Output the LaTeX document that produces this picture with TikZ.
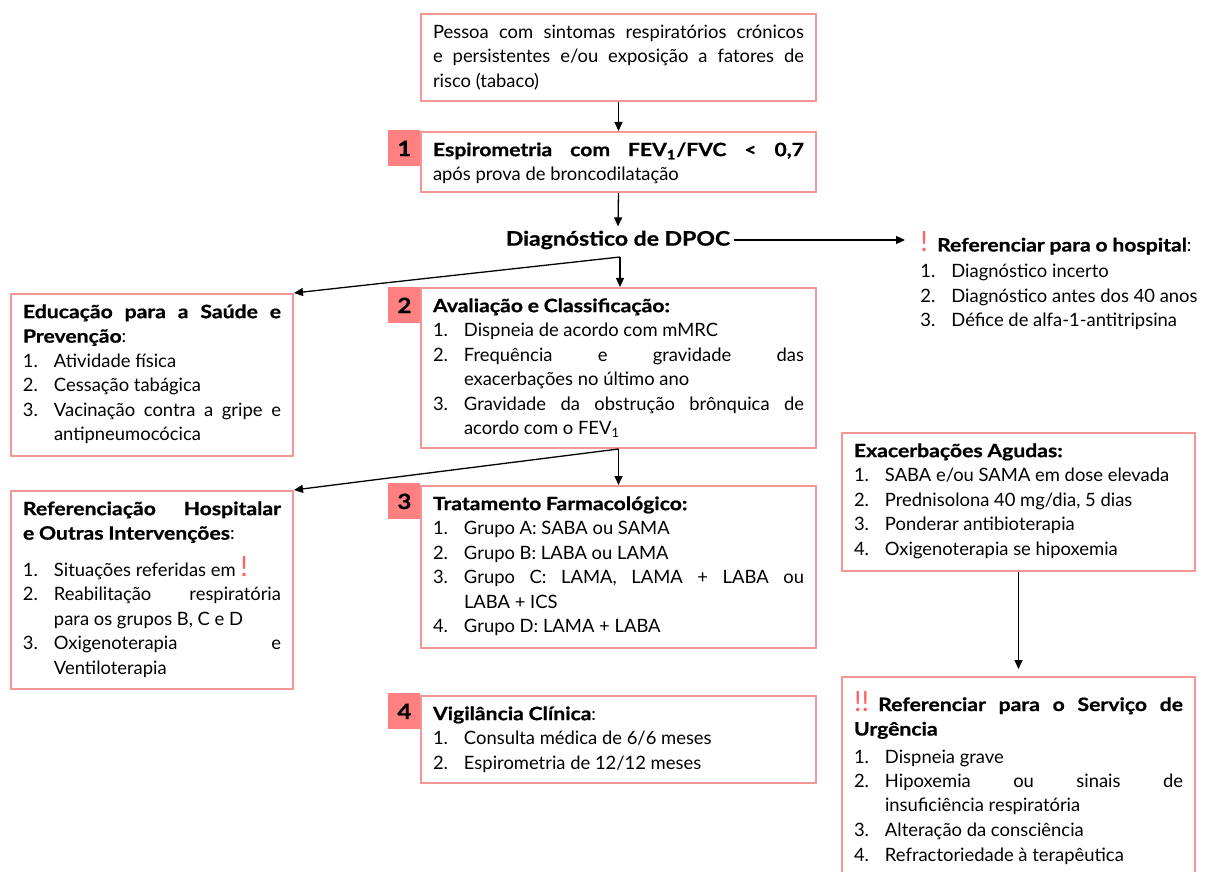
\documentclass[tikz,border=0pt]{standalone}
\usepackage{fontspec}
\setmainfont{Lato}[BoldFeatures={FakeStretch=1.15,FakeBold=0.8}]
\usetikzlibrary{arrows.meta}
\definecolor{rosa}{RGB}{245,150,150}
\definecolor{salmao}{RGB}{255,128,128}
\definecolor{alerta}{RGB}{255,100,100}
\newcommand{\fonte}{\fontsize{9.2pt}{12.25pt}\selectfont
	\spaceskip=\fontdimen2\font plus 0.6\fontdimen2\font minus 0.3\fontdimen2\font\relax}
\newcommand{\caixa}[3]{\parbox[t][#2][t]{#1}{\fonte\rightskip=0pt\strut#3}}
\newcommand{\itm}[2]{\par\noindent\hangindent=15.5pt\hangafter=1\makebox[15.5pt][l]{#1}#2}
\newcommand{\exc}[1]{{\color{alerta}\fontsize{14pt}{14pt}\selectfont #1}}
\tikzset{
	caixa/.style={draw=rosa, line width=1pt, anchor=north west, inner xsep=6pt, inner ysep=3.5pt},
	numero/.style={fill=salmao, anchor=north west, minimum width=16pt, minimum height=18pt, inner sep=0pt, font=\fontsize{10.5pt}{12pt}\selectfont\bfseries},
	seta/.style={-{Triangle[length=4.5pt,width=4pt]}, line width=0.65pt}
}

\begin{document}
\begin{tikzpicture}[x=0.5pt, y=-0.5pt]
	\clip (0,0) rectangle (1207,872);
	
	% centre column
	\node[caixa] (inicio) at (420,13) {\caixa{185.5pt}{36.5pt}{Pessoa com sintomas respiratórios crónicos\linebreak e persistentes e/ou exposição a fatores de\linebreak risco (tabaco)}};
	\node[caixa] (espiro) at (420,131) {\caixa{185.5pt}{23pt}{\textbf{Espirometria com FEV\textsubscript{1}/FVC < 0,7}\linebreak após prova de broncodilatação}};
	\node[inner sep=2pt, font=\fontsize{10pt}{12pt}\selectfont\bfseries] (dpoc) at (618,240) {Diagnóstico de DPOC};
	\node[caixa] (aval) at (420,287) {\caixa{185.5pt}{73pt}{\textbf{Avaliação e Classificação:}
		\itm{1.}{Dispneia de acordo com mMRC}
		\itm{2.}{Frequência e gravidade das\linebreak exacerbações no último ano}
		\itm{3.}{Gravidade da obstrução brônquica de\linebreak acordo com o FEV\textsubscript{1}}}};
	\node[caixa] (trat) at (420,485) {\caixa{185.5pt}{74pt}{\textbf{Tratamento Farmacológico:}
		\itm{1.}{Grupo A: SABA ou SAMA}
		\itm{2.}{Grupo B: LABA ou LAMA}
		\itm{3.}{Grupo C: LAMA, LAMA + LABA ou\linebreak LABA + ICS}
		\itm{4.}{Grupo D: LAMA + LABA}}};
	\node[caixa] (vigil) at (420,695) {\caixa{185.5pt}{36.5pt}{\textbf{Vigilância Clínica}:
		\itm{1.}{Consulta médica de 6/6 meses}
		\itm{2.}{Espirometria de 12/12 meses}}};
	
	% numbers
	\node[numero] (b1) at (388,130) {1};
	\node[numero] (b2) at (388,287) {2};
	\node[numero] (b3) at (388,483) {3};
	\node[numero] (b4) at (388,693) {4};
	
	% left column
	\node[caixa] (educ) at (10,293) {\caixa{129pt}{74pt}{\textbf{Educação para a Saúde e}\linebreak \textbf{Prevenção}:
		\itm{1.}{Atividade física}
		\itm{2.}{Cessação tabágica}
		\itm{3.}{Vacinação contra a gripe e\linebreak antipneumocócica}}};
	\node[caixa] (refer) at (10,490) {\caixa{129pt}{92pt}{\textbf{Referenciação Hospitalar}\linebreak \textbf{e Outras Intervenções}:\par\vspace{6pt}
		\itm{1.}{Situações referidas em \exc{!}}
		\itm{2.}{Reabilitação respiratória\linebreak para os grupos B, C e D}
		\itm{3.}{Oxigenoterapia e\linebreak Ventiloterapia}}};
	
	% right column
	\node[anchor=north west, inner sep=0pt] (hosp) at (920,231) {\caixa{140pt}{60pt}{\exc{!}\enspace\textbf{Referenciar para o hospital}:\par\vspace{1pt}
		\itm{1.}{Diagnóstico incerto}
		\itm{2.}{Diagnóstico antes dos 40 anos}
		\itm{3.}{Défice de alfa-1-antitripsina}}};
	\node[caixa] (exac) at (841,432) {\caixa{164.5pt}{62pt}{\textbf{Exacerbações Agudas:}
		\itm{1.}{SABA e/ou SAMA em dose elevada}
		\itm{2.}{Prednisolona 40 mg/dia, 5 dias}
		\itm{3.}{Ponderar antibioterapia}
		\itm{4.}{Oxigenoterapia se hipoxemia}}};
	\node[caixa] (urg) at (841,676) {\caixa{164.5pt}{110pt}{\rule{0pt}{13.5pt}\exc{!!}\enspace\textbf{Referenciar para o Serviço de}\linebreak \textbf{Urgência}\par\vspace{1.5pt}
		\itm{1.}{Dispneia grave}
		\itm{2.}{Hipoxemia ou sinais de\linebreak insuficiência respiratória}
		\itm{3.}{Alteração da consciência}
		\itm{4.}{Refractoriedade à terapêutica}}};
	
	% arrows
	\coordinate (j1) at (620,257);
	\draw[seta] (inicio.south) -- (espiro.north);
	\draw[seta] (espiro.south) -- (dpoc.north);
	\draw[seta, shorten >=7.5pt] (dpoc.east) -- (dpoc.east -| hosp.west);
	\draw[seta] (j1) -- (j1 |- aval.north);
	\draw[seta] (j1) -- (educ.north east);
	\draw[seta] (aval.south) -- (trat.north);
	\draw[seta] (aval.south) -- (refer.north east);
	\draw[seta, shorten >=3.5pt] (exac.south) -- (urg.north);
\end{tikzpicture}
\end{document}
